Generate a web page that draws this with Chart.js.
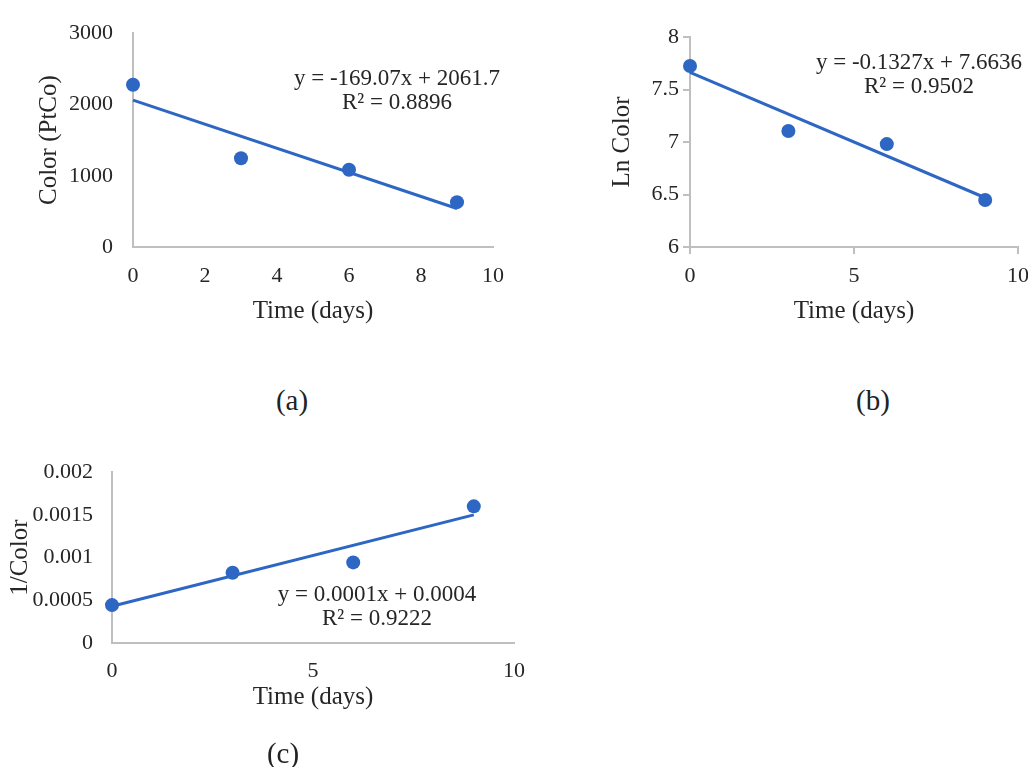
<!DOCTYPE html>
<html><head><meta charset="utf-8">
<script src="https://cdn.jsdelivr.net/npm/chart.js@4.4.1/dist/chart.umd.min.js"></script>
<style>
html,body{margin:0;padding:0;background:#fff;overflow:hidden;width:1028px;height:767px;}
#page{position:relative;width:1028px;height:767px;overflow:hidden;background:#fff;}
canvas{position:absolute;}
.panel{position:absolute;font-family:"Liberation Serif","Times New Roman",serif;font-size:29px;color:#222;transform:translate(-50%,-50%);white-space:nowrap;line-height:1;}
</style></head><body>
<div id="page">
<canvas id="ca" width="520" height="340" style="left:0px;top:0px;width:520px;height:340px"></canvas>
<canvas id="cb" width="540" height="340" style="left:520px;top:0px;width:540px;height:340px"></canvas>
<canvas id="cc" width="540" height="327" style="left:0px;top:440px;width:540px;height:327px"></canvas>
<div class="panel" style="left:292px;top:400px">(a)</div>
<div class="panel" style="left:873px;top:400px">(b)</div>
<div class="panel" style="left:283px;top:753px">(c)</div>
</div>
<script>
// ---- data ----
const days = [0, 3, 6, 9];
const colorPtCo = [2276, 1245, 1084, 629];
const lnColor = [7.724, 7.105, 6.98, 6.448];
const invColor = [0.000444, 0.000822, 0.000944, 0.0016];

const trendDays = [0, 9];
const trendA = [2061.7, 540.1];
const trendB = [7.6636, 6.469];
const trendC = [0.00043, 0.0015];

const xTicksA = [0, 2, 4, 6, 8, 10];
const xTicksBC = [0, 5, 10];
const yTicksA = [0, 1000, 2000, 3000];
const yTicksB = [6, 6.5, 7, 7.5, 8];
const yTicksC = [0, 0.0005, 0.001, 0.0015, 0.002];

const eqA = ["y = -169.07x + 2061.7", "R\u00B2 = 0.8896"];
const eqB = ["y = -0.1327x + 7.6636", "R\u00B2 = 0.9502"];
const eqC = ["y = 0.0001x + 0.0004", "R\u00B2 = 0.9222"];

// ---- styling ----
const BLUE = '#2D66C3';
const AXIS = '#BFBFBF';
const TXT = '#262626';
const SERIF = '"Liberation Serif", "Times New Roman", serif';
Chart.defaults.font.family = SERIF;
Chart.defaults.color = TXT;

const eqPlugin = {
  id: 'eq',
  afterDraw(chart, args, opts) {
    const ctx = chart.ctx;
    ctx.save();
    ctx.font = '23px ' + SERIF;
    ctx.fillStyle = TXT;
    ctx.textAlign = 'center';
    ctx.textBaseline = 'middle';
    opts.lines.forEach((t, i) => ctx.fillText(t, opts.x, opts.y + i * opts.gap));
    ctx.restore();
  }
};

const pts = (xs, ys) => xs.map((x, i) => ({x: x, y: ys[i]}));

function makeChart(id, p) {
  new Chart(document.getElementById(id), {
    type: 'scatter',
    plugins: [eqPlugin],
    data: {
      datasets: [
        {data: pts(days, p.values), pointRadius: 7, pointHoverRadius: 7,
         backgroundColor: BLUE, borderColor: BLUE, borderWidth: 0, clip: false},
        {data: pts(trendDays, p.trend), showLine: true, pointRadius: 0,
         borderColor: BLUE, borderWidth: 3, clip: false}
      ]
    },
    options: {
      responsive: false, animation: false, devicePixelRatio: 1,
      layout: {padding: {left: 0, top: p.top, right: p.right, bottom: 0}},
      plugins: {legend: {display: false}, tooltip: {enabled: false},
                eq: {lines: p.eq, x: p.eqX, y: p.eqY, gap: 24}},
      scales: {
        x: {
          type: 'linear', min: 0, max: 10,
          afterBuildTicks: s => { s.ticks = p.xTicks.map(v => ({value: v})); },
          afterFit: s => { s.height = p.xH; },
          border: {display: true, color: AXIS, width: 2},
          grid: p.ticksMarks ? {display: true, drawOnChartArea: false, drawTicks: true, tickLength: 7, color: AXIS, lineWidth: 2}
                             : {display: false, drawTicks: false},
          ticks: {padding: p.xPad, font: {size: 22}, color: TXT, maxRotation: 0, callback: v => String(v)},
          title: {display: true, text: 'Time (days)', font: {size: 25, lineHeight: 1.2}, color: TXT,
                  padding: {top: 0, bottom: p.xTitlePad}}
        },
        y: {
          type: 'linear', min: p.yMin, max: p.yMax,
          afterBuildTicks: s => { s.ticks = p.yTicks.map(v => ({value: v})); },
          afterFit: s => { s.width = p.yW; },
          border: {display: true, color: AXIS, width: 2},
          grid: p.ticksMarks ? {display: true, drawOnChartArea: false, drawTicks: true, tickLength: 7, color: AXIS, lineWidth: 2}
                             : {display: false, drawTicks: false},
          ticks: {padding: p.yPad, font: {size: 22}, color: TXT, callback: v => String(v)},
          title: {display: true, text: p.yTitle, font: {size: 25, lineHeight: 1.2}, color: TXT,
                  padding: {top: p.yTitlePad, bottom: 0}}
        }
      }
    }
  });
}

makeChart('ca', {values: colorPtCo, trend: trendA, xTicks: xTicksA, yTicks: yTicksA,
  yMin: 0, yMax: 3000, yTitle: 'Color (PtCo)', eq: eqA, eqX: 397, eqY: 79,
  top: 23, right: 25, xH: 93, yW: 133, xPad: 16, yPad: 20, xTitlePad: 14, yTitlePad: 34, ticksMarks: false});

makeChart('cb', {values: lnColor, trend: trendB, xTicks: xTicksBC, yTicks: yTicksB,
  yMin: 6, yMax: 8, yTitle: 'Ln Color', eq: eqB, eqX: 399, eqY: 63,
  top: 37, right: 42, xH: 93, yW: 170, xPad: 9, yPad: 4, xTitlePad: 14, yTitlePad: 87, ticksMarks: true});

makeChart('cc', {values: invColor, trend: trendC, xTicks: xTicksBC, yTicks: yTicksC,
  yMin: 0, yMax: 0.002, yTitle: '1/Color', eq: eqC, eqX: 377, eqY: 155,
  top: 23, right: 17, xH: 124, yW: 112, xPad: 15, yPad: 19, xTitlePad: 55, yTitlePad: 5, ticksMarks: false});
</script>
</body></html>
